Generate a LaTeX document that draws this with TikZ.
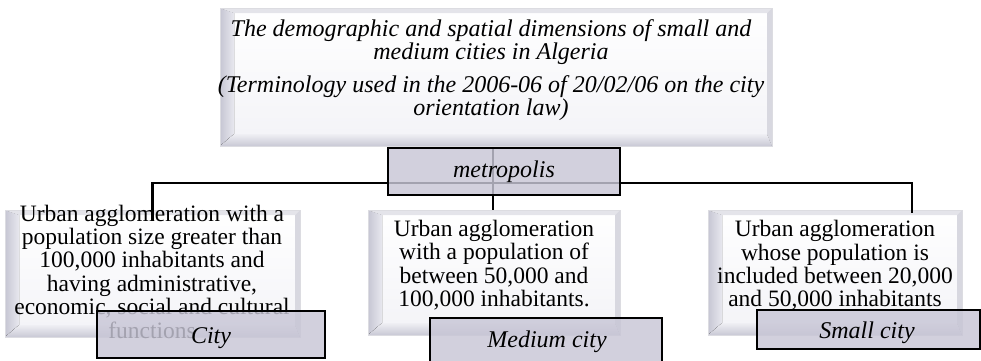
\documentclass[tikz,border=0pt]{standalone}
\usepackage{fontspec}
\setmainfont{Liberation Serif}
\usetikzlibrary{calc}
\definecolor{rimgray}{HTML}{DCDCE1}
\definecolor{bevleft}{HTML}{C6C6D3}
\definecolor{bevlefti}{HTML}{E8E8EF}
\definecolor{bevtop}{HTML}{E4E4EA}
\definecolor{bevbot}{HTML}{C9C9D5}
\definecolor{bevboti}{HTML}{EFEFF4}
\definecolor{bevright}{HTML}{D8D8E0}
\definecolor{facebot}{HTML}{F3F3F7}
\definecolor{labelfill}{HTML}{C8C6D6}
\tikzset{
  bevelbox/.style args={#1/#2}{rectangle, inner sep=0pt, minimum width=#1, minimum height=#2,
    draw=rimgray, line width=0.6pt,
    path picture={
      \coordinate (pNW) at (path picture bounding box.north west);
      \coordinate (pNE) at (path picture bounding box.north east);
      \coordinate (pSW) at (path picture bounding box.south west);
      \coordinate (pSE) at (path picture bounding box.south east);
      \fill[top color=white, bottom color=facebot] (pNW) rectangle (pSE);
      \fill[left color=bevleft, right color=bevlefti] (pNW) -- ($(pNW)+(14pt,-5pt)$) -- ($(pSW)+(14pt,12pt)$) -- (pSW) -- cycle;
      \fill[top color=bevboti, bottom color=bevbot] (pSW) -- ($(pSW)+(14pt,12pt)$) -- ($(pSE)+(-5pt,12pt)$) -- (pSE) -- cycle;
      \fill[bevtop] (pNW) -- (pNE) -- ($(pNE)+(-5pt,-5pt)$) -- ($(pNW)+(14pt,-5pt)$) -- cycle;
      \fill[bevright] (pNE) -- (pSE) -- ($(pSE)+(-5pt,12pt)$) -- ($(pNE)+(-5pt,-5pt)$) -- cycle;
    }},
  labelbox/.style args={#1/#2}{rectangle, inner sep=0pt, minimum width=#1, minimum height=#2,
    draw=black, line width=2.7pt, fill=labelfill, fill opacity=0.82, text opacity=1},
  desctext/.style={align=center, font=\fontsize{23.5}{23.4}\selectfont, inner sep=0pt},
  labeltext/.style={font=\fontsize{24}{26}\selectfont\itshape, inner sep=0pt},
  conn/.style={draw=black, line width=2.4pt},
}
\begin{document}
\begin{tikzpicture}[x=1pt, y=-1pt]
\useasboundingbox (0,0) rectangle (981,360);
% bevel boxes
\node[bevelbox=552pt/138pt] (topbox) at (496,77) {};
\node[bevelbox=295pt/127pt] (leftbox) at (152.5,273.5) {};
\node[bevelbox=252pt/125pt] (midbox) at (494,272.5) {};
\node[bevelbox=254pt/125pt] (rightbox) at (835,272.5) {};
% title text
\node[align=center, font=\fontsize{24}{23.5}\selectfont\itshape, inner sep=0pt] (title) at (491,70)
  {The demographic and spatial dimensions of small and\\ medium cities in Algeria\\[9pt]
   (Terminology used in the 2006-06 of 20/02/06 on the city\\ orientation law)};
% connectors
\coordinate (hub) at (493,183);
\coordinate (ltop) at (152.5,221);
\coordinate (rtop) at (912,213);
\coordinate (mtop) at (493,148);
\draw[conn] (ltop) |- (hub) -| (rtop);
\draw[conn] (mtop) -- (midbox.north -| mtop);
% description texts
\node[desctext] (lefttext) at (152,271.5) {Urban agglomeration with a\\ population size greater than\\ 100,000 inhabitants and\\ having administrative,\\ economic, social and cultural\\ functions};
\node[desctext] (midtext) at (494,265) {Urban agglomeration\\ with a population of\\ between 50,000 and\\ 100,000 inhabitants.};
\node[desctext] (righttext) at (835,265.5) {Urban agglomeration\\ whose population is\\ included between 20,000\\ and 50,000 inhabitants};
% label boxes
\node[labelbox=232pt/47pt] (metro) at (504,171.5) {};
\node[labeltext] at (metro.center) {metropolis};
\node[labelbox=228pt/47pt] (city) at (211,334.5) {};
\node[labeltext] at (211,338) {City};
\node[labelbox=232pt/48pt] (medium) at (546,342) {};
\node[labeltext] at (547,342) {Medium city};
\node[labelbox=223pt/39pt] (small) at (868.5,329.5) {};
\node[labeltext] at (867,333) {Small city};
\end{tikzpicture}
\end{document}
